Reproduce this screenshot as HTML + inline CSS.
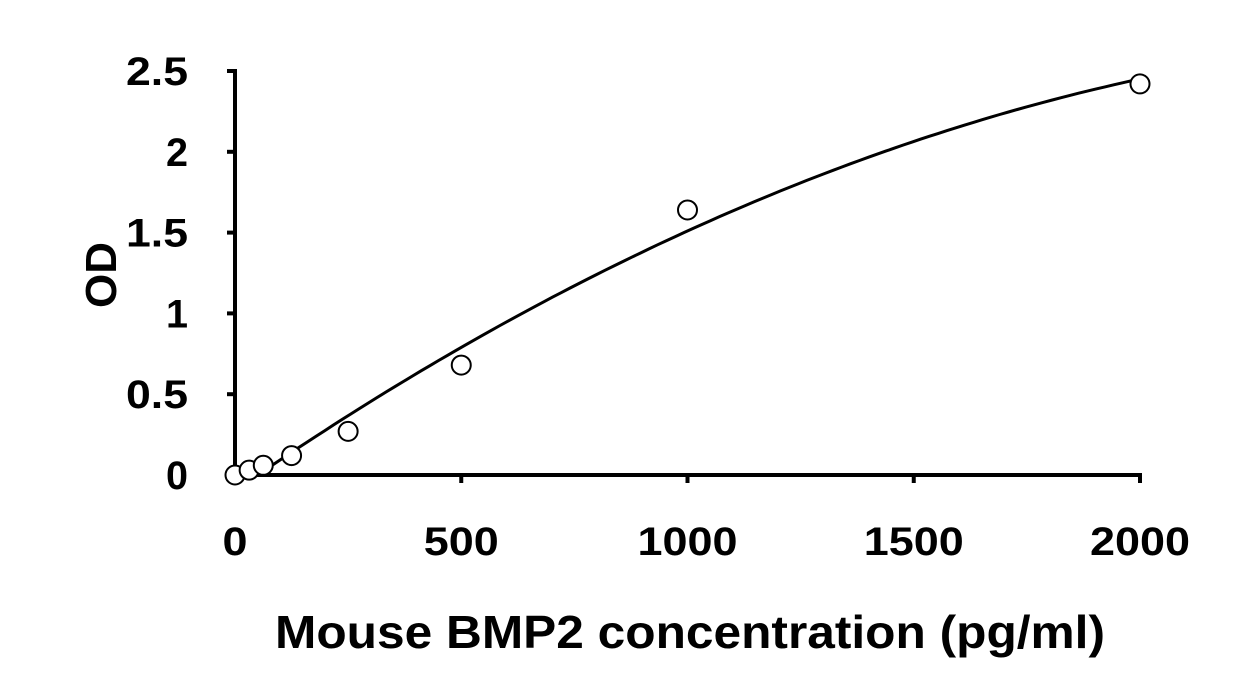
<!DOCTYPE html>
<html><head><meta charset="utf-8"><style>body{margin:0;background:#fff}svg{display:block}text{font-family:"Liberation Sans",Arial,sans-serif;font-weight:bold;fill:#000}</style></head>
<body>
<svg id="chart" width="1245" height="697"></svg>
<script>
const xTicks=[0,500,1000,1500,2000];
const yTicks=[0,0.5,1,1.5,2,2.5];
const yTickLabels=["0","0.5","1","1.5","2","2.5"];
const concentrations=[0,31.25,62.5,125,250,500,1000,2000];
const odValues=[0,0.03,0.06,0.12,0.27,0.68,1.64,2.42];
const fitCoef=[-0.097,0.00194,-3.33e-7];
const fitRange=[62.5,2000];
const NS="http://www.w3.org/2000/svg";
const svg=document.getElementById('chart');
const X=v=>235+v*(1140-235)/2000;
const Y=v=>475-v*(475-71)/2.5;
function mk(t,a){const e=document.createElementNS(NS,t);for(const k in a)e.setAttribute(k,a[k]);svg.appendChild(e);return e;}
let e;
e=mk('line',{x1:235,y1:69,x2:235,y2:477,stroke:'#000','stroke-width':4});


e=mk('line',{x1:233,y1:475,x2:1142,y2:475,stroke:'#000','stroke-width':4});


yTicks.forEach((v,i)=>{
 e=mk('line',{x1:227,y1:Y(v),x2:235,y2:Y(v),stroke:'#000','stroke-width':4});
 
 
 const s=yTickLabels[i];
 e=mk('text',{x:188,y:Y(v)+14,'text-anchor':'end','font-size':40,textLength:s.length>1?62:22,lengthAdjust:'spacingAndGlyphs'});
 e.textContent=s;
 
 
});
xTicks.forEach(v=>{
 e=mk('line',{x1:X(v),y1:475,x2:X(v),y2:483,stroke:'#000','stroke-width':4});
 
 
 const s=String(v);
 e=mk('text',{x:X(v),y:555,'text-anchor':'middle','font-size':40,textLength:s.length*25,lengthAdjust:'spacingAndGlyphs'});
 e.textContent=s;
 
 
});
let d='';
for(let i=0;i<=100;i++){const c=fitRange[0]+(fitRange[1]-fitRange[0])*i/100;const y=fitCoef[0]+fitCoef[1]*c+fitCoef[2]*c*c;d+=(i?'L':'M')+X(c).toFixed(1)+','+Y(y).toFixed(1);}
e=mk('path',{d:d,fill:'none',stroke:'#000','stroke-width':3});


concentrations.forEach((c,i)=>{
 e=mk('circle',{cx:X(c),cy:Y(odValues[i]),r:9.5,fill:'#fff',stroke:'#000','stroke-width':2});
 
 
});
e=mk('text',{x:690,y:648,'text-anchor':'middle','font-size':46,textLength:830,lengthAdjust:'spacingAndGlyphs'});
e.textContent='Mouse BMP2 concentration (pg/ml)';


e=mk('text',{x:0,y:0,'text-anchor':'middle','font-size':44,transform:'translate(116,275) rotate(-90)'});
e.textContent='OD';


</script>
</body></html>
